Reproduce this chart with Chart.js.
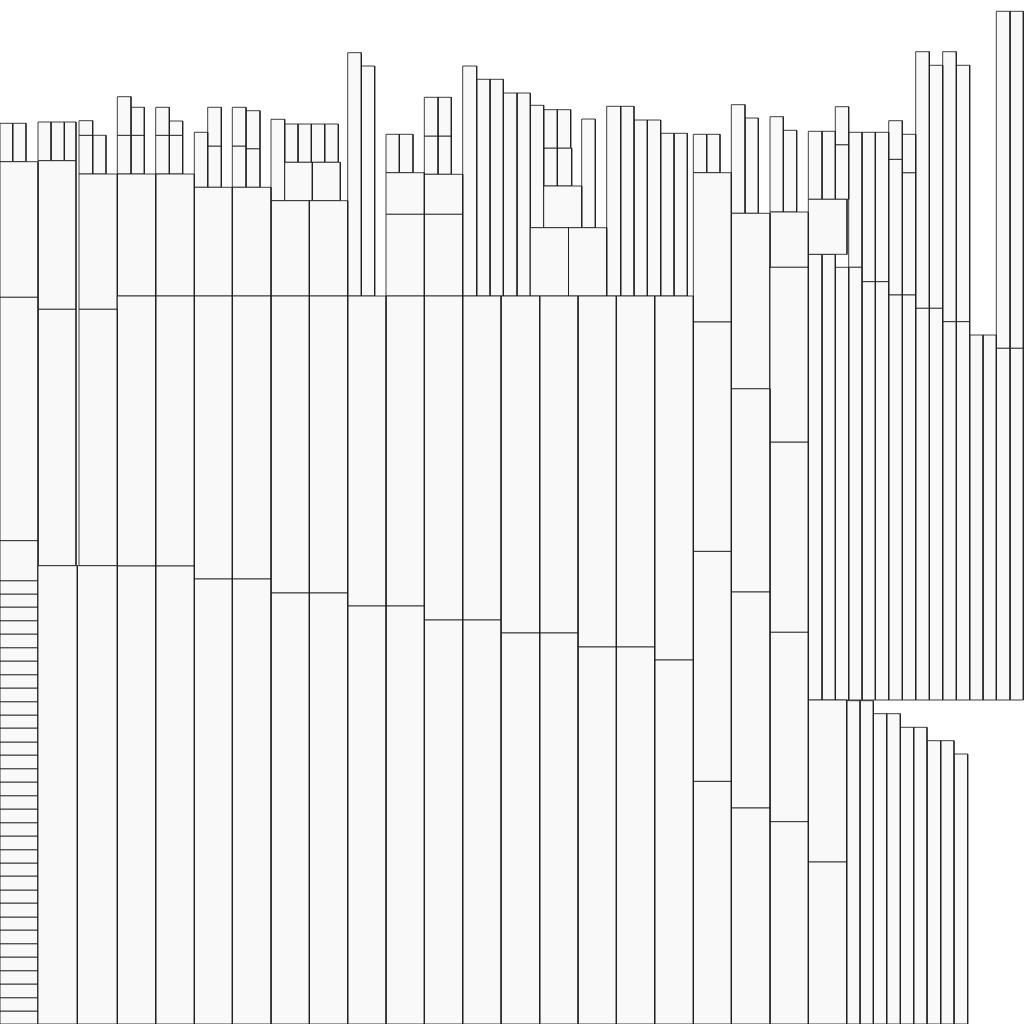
<!DOCTYPE html>
<html>
<head>
<meta charset="utf-8">
<script src="https://cdn.jsdelivr.net/npm/chart.js@4.4.1/dist/chart.umd.min.js"></script>
<style>
html,body{margin:0;padding:0;background:#ffffff;}
canvas{display:block;}
</style>
</head>
<body>
<canvas id="chart" width="1024" height="1024"></canvas>
<script>
// Each block: [xStart, xEnd, topValue, bottomValue] in chart units (y axis runs downward)

// Column A: stack of small cells (edges read top to bottom)
const leftStackEdges = [580.7, 594, 607, 620.7, 634, 647.7, 661, 674.7, 688, 701.7, 715, 728, 742, 755,
  768.7, 782, 795.7, 809, 822.7, 836, 849.7, 863, 876, 890, 903, 917, 930, 943.7, 957, 970.7, 984,
  997.7, 1011, 1024];
const leftStackX = [0, 38];

const baseBlocks = [
  [38, 77.3, 565.7, 1024], [77.3, 117.3, 565.7, 1024], [117.3, 155.7, 566, 1024], [155.7, 194.3, 566, 1024],
  [194.3, 232.3, 579, 1024], [232.3, 271, 579, 1024],
  [271, 309.3, 593, 1024], [309.3, 347.7, 593, 1024],
  [347.7, 386, 606, 1024], [386, 424.3, 606, 1024],
  [424.3, 462.7, 620, 1024], [462.7, 501, 620, 1024],
  [501, 539.7, 633, 1024], [539.7, 578, 633, 1024],
  [578, 616.3, 647, 1024], [616.3, 654.7, 647, 1024],
  [654.7, 693.3, 660, 1024],
  [693.3, 731.3, 781.4, 1024], [731.3, 770, 808, 1024], [770, 808.3, 821.7, 1024], [808.3, 846.7, 862, 1024]
];

const middleBlocks = [
  [0, 38, 540.7, 580.7], [0, 38, 297.3, 540.7], [38, 76, 309.3, 565.7], [79, 117.3, 309.3, 565.7],
  [117.3, 155.7, 296, 566], [155.7, 194.3, 296, 566], [194.3, 232.3, 296, 579], [232.3, 271, 296, 579],
  [271, 309.3, 296, 593], [309.3, 347.7, 296, 593], [347.7, 386, 296, 606], [386, 424.3, 296, 606],
  [424.3, 462.7, 296, 620], [462.7, 501, 296, 620], [501, 539.7, 296, 633], [539.7, 578, 296, 633],
  [578, 616.3, 296, 647], [616.3, 654.7, 296, 647], [654.7, 693.3, 296, 660],
  [693.3, 731.3, 551.4, 781.4], [693.3, 731.3, 322, 551.4],
  [731.3, 770, 592, 808], [731.3, 770, 388.8, 592],
  [770, 808.3, 632.3, 821.7], [770, 808.3, 442.2, 632.3], [770, 808.3, 267.3, 442.2],
  [808.3, 846.7, 700, 862]
];

const upperBlocks = [
  [0, 38, 161.7, 297.3], [38, 76, 160.7, 309.3], [79, 117.3, 174, 309.3],
  [117.3, 155.7, 174, 296], [155.7, 194.3, 174, 296], [194.3, 232.3, 187.3, 296], [232.3, 271, 187.3, 296],
  [271, 309.3, 200.7, 296], [309.3, 347.7, 200.7, 296], [284.7, 312.3, 162.3, 200.7], [312.3, 340.3, 162.3, 200.7],
  [386, 424.3, 214.3, 296], [386, 424.3, 172.7, 214.3], [424.3, 462.7, 214.3, 296], [424.3, 462.7, 174.3, 214.3],
  [530.3, 568.5, 227.7, 296], [568.5, 606.7, 227.7, 296], [543.7, 581.7, 186, 227.7],
  [693.3, 731.3, 172.7, 322], [731.3, 770, 213.3, 388.8], [770, 808.3, 212, 267.3],
  [808.3, 847, 199.3, 254.3]
];

const topBars = [
  [0, 12.7, 123.3, 161.7], [12.7, 26, 123.3, 161.7],
  [38, 51, 122, 160.7], [51, 64.3, 122, 160.7], [64.3, 76, 122, 160.7],
  [79, 92.7, 120.7, 135.3], [79, 92.7, 135.3, 174], [92.7, 106, 135.3, 174],
  [117.3, 131, 96.7, 135.3], [131, 144.3, 107.3, 135.3], [117.3, 131, 135.3, 174], [131, 144.3, 135.3, 174],
  [155.7, 169.3, 107.3, 135.3], [169.3, 182.7, 121, 135.3], [155.7, 169.3, 135.3, 174], [169.3, 182.7, 135.3, 174],
  [194.3, 207.7, 132.3, 187.3], [207.7, 221.3, 107.3, 146], [207.7, 221.3, 146, 187.3],
  [232.3, 246, 107.3, 146], [232.3, 246, 146, 187.3], [246, 260, 110.7, 148.7], [246, 260, 148.7, 187.3],
  [271, 284.7, 119.3, 200.7], [284.7, 298, 124, 162.3], [298, 311.3, 124, 162.3], [311.3, 324.7, 124, 162.3], [324.7, 338.3, 124, 162.3],
  [347.7, 361.3, 52.7, 296], [361.3, 374.7, 66, 296],
  [386, 399.3, 134.3, 172.7], [399.3, 413, 134.3, 172.7],
  [424.3, 438, 97.3, 136], [438, 451.3, 97.3, 136], [424.3, 438, 136, 174.3], [438, 451.3, 136, 174.3],
  [462.7, 476.7, 66, 296], [476.7, 490, 79.3, 296], [490, 503.3, 79.3, 296], [503.3, 517, 93, 296], [517, 530.3, 93, 296],
  [530.3, 543.7, 105.3, 227.7],
  [543.7, 557.3, 109.7, 148], [557.3, 570.7, 109.7, 148], [543.7, 557.3, 148, 186], [557.3, 571.7, 148, 186],
  [581.7, 595.3, 119, 227.7],
  [606.7, 620.7, 106.3, 296], [620.7, 634, 106.3, 296], [634, 647.3, 120, 296], [647.3, 660.7, 120, 296],
  [660.7, 674, 133.3, 296], [674, 687.3, 133.3, 296],
  [693.3, 706.7, 134.3, 172.7], [706.7, 720, 134.3, 172.7],
  [731.3, 745, 104.7, 213.3], [745, 758.3, 118, 213.3],
  [770, 783.3, 116.7, 212], [783.3, 796.7, 130.3, 212],
  [808.3, 822, 131.3, 199.3], [822, 835.3, 131.3, 199.3], [835.3, 848.7, 106.7, 144.7], [835.3, 848.7, 144.7, 199.3],
  [848.7, 862, 132.3, 267.3], [862, 875.3, 132.3, 281.7], [875.3, 888.7, 132.3, 281.7],
  [888.7, 902.3, 120.7, 159.3], [888.7, 902.3, 159.3, 295], [902.3, 915.7, 134.3, 172.7], [902.3, 915.7, 172.7, 295],
  [915.7, 929.3, 51.7, 308.3], [929.3, 942.7, 65.3, 308.3], [942.7, 956.3, 51.7, 321.7], [956.3, 969.7, 65.3, 321.7],
  [996.3, 1010, 11.3, 348.3], [1010, 1023.3, 11.3, 348.3]
];

const rightStrips = [
  [808.3, 822, 254.3, 700], [822, 835.3, 254.3, 700], [835.3, 848.7, 267.3, 700], [848.7, 862, 267.3, 700],
  [862, 875.3, 281.7, 700], [875.3, 888.7, 281.7, 700], [888.7, 902.3, 295, 700], [902.3, 915.7, 295, 700],
  [915.7, 929.3, 308.3, 700], [929.3, 942.7, 308.3, 700], [942.7, 956.3, 321.7, 700], [956.3, 969.7, 321.7, 700],
  [969.7, 983, 335, 700], [983, 996.3, 335, 700], [996.3, 1010, 348.3, 700], [1010, 1023.3, 348.3, 700]
];

const lowerStrips = [
  [846.7, 860, 700.7, 1024], [860, 873.3, 700.7, 1024], [873.3, 886.7, 713.7, 1024], [886.7, 900.3, 713.7, 1024],
  [900.3, 913.7, 727.3, 1024], [913.7, 927, 727.3, 1024], [927, 940.7, 740.7, 1024], [940.7, 954, 740.7, 1024],
  [954, 967.7, 754, 1024]
];

const FILL = '#f9f9f9';
const EDGE = 'rgba(30,30,30,0.85)';

const leftStack = [];
for (let i = 0; i < leftStackEdges.length - 1; i++) {
  leftStack.push([leftStackX[0], leftStackX[1], leftStackEdges[i], leftStackEdges[i + 1]]);
}

const blocks = [].concat(baseBlocks, middleBlocks, leftStack, upperBlocks, rightStrips, lowerStrips, topBars);

const datasets = blocks.map(([x0, x1, t, b]) => ({
  data: [{x: x0, y: t}, {x: x1, y: t}, {x: x1, y: b}, {x: x0, y: b}, {x: x0, y: t}],
  showLine: true,
  fill: 'shape',
  backgroundColor: FILL,
  borderColor: EDGE,
  borderWidth: 1,
  pointRadius: 0,
  pointHoverRadius: 0,
  tension: 0
}));

new Chart(document.getElementById('chart'), {
  type: 'scatter',
  data: {datasets},
  options: {
    responsive: false,
    animation: false,
    events: [],
    layout: {padding: 0},
    plugins: {legend: {display: false}, tooltip: {enabled: false}},
    scales: {
      x: {type: 'linear', min: 0, max: 1024, display: false},
      y: {type: 'linear', min: 0, max: 1024, reverse: true, display: false}
    }
  }
});
</script>
</body>
</html>
